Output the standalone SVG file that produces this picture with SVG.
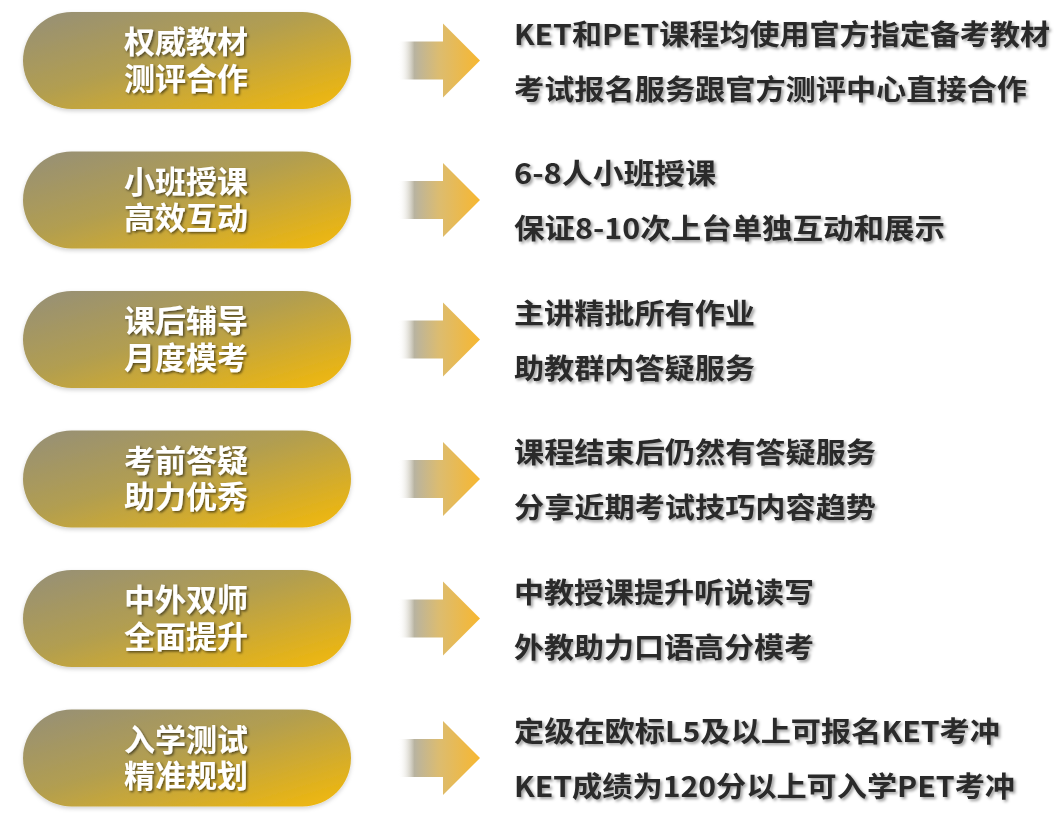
<svg xmlns="http://www.w3.org/2000/svg" width="1061" height="834" viewBox="0 0 1061 834">
<defs>
<linearGradient id="pillGrad" x1="0" y1="0" x2="1" y2="1" gradientUnits="objectBoundingBox">
<stop offset="0" stop-color="#958f78"/>
<stop offset="0.45" stop-color="#b29e50"/>
<stop offset="1" stop-color="#f5ba08"/>
</linearGradient>
<linearGradient id="arrowGrad" x1="398" y1="0" x2="480" y2="0" gradientUnits="userSpaceOnUse">
<stop offset="0" stop-color="#ffffff" stop-opacity="0"/>
<stop offset="0.2" stop-color="#b8b3a0"/>
<stop offset="0.5" stop-color="#dcbc70"/>
<stop offset="1" stop-color="#f7b730"/>
</linearGradient>
<filter id="pillShadow" x="-10%" y="-20%" width="120%" height="150%">
<feDropShadow dx="0" dy="2" stdDeviation="2" flood-color="#000" flood-opacity="0.18"/>
</filter>
<filter id="whiteTextShadow" x="-10%" y="-30%" width="120%" height="160%">
<feDropShadow dx="1.5" dy="1.5" stdDeviation="1.2" flood-color="#000" flood-opacity="0.55"/>
</filter>
<filter id="darkTextShadow" x="-5%" y="-30%" width="110%" height="160%">
<feDropShadow dx="2" dy="2" stdDeviation="1.6" flood-color="#000" flood-opacity="0.38"/>
</filter>
<path id="arrowShape" d="M398,-19 L443,-19 L443,-37 L480,0 L443,37 L443,19 L398,19 Z"/>
</defs>
<style>
.pill { fill: url(#pillGrad); filter: url(#pillShadow); }
.ptext { font-family: "Noto Sans CJK SC", "Noto Sans", sans-serif; font-weight: bold; font-size: 31px; fill: #ffffff; text-anchor: middle; filter: url(#whiteTextShadow); }
.dtext { font-family: "Noto Sans CJK SC", "Noto Sans", sans-serif; font-weight: bold; font-size: 28px; fill: #2b2b2b; filter: url(#darkTextShadow); }
.arrow { fill: url(#arrowGrad); }
</style>
<rect width="1061" height="834" fill="#ffffff"/>

<g id="connectors">
<use href="#arrowShape" class="arrow" transform="translate(0,60.5)"/>
<use href="#arrowShape" class="arrow" transform="translate(0,200)"/>
<use href="#arrowShape" class="arrow" transform="translate(0,339.5)"/>
<use href="#arrowShape" class="arrow" transform="translate(0,479)"/>
<use href="#arrowShape" class="arrow" transform="translate(0,618.5)"/>
<use href="#arrowShape" class="arrow" transform="translate(0,758)"/>
</g>

<g id="node1">
<rect class="pill" x="23" y="12" width="328" height="97" rx="48.5"/>
<text class="ptext" x="186" y="53">权威教材</text>
<text class="ptext" x="186" y="89.5">测评合作</text>
</g>
<g id="desc1">
<text class="dtext" x="514" y="44.5" textLength="536" lengthAdjust="spacingAndGlyphs">KET和PET课程均使用官方指定备考教材</text>
<text class="dtext" x="514" y="99.5" textLength="513" lengthAdjust="spacingAndGlyphs">考试报名服务跟官方测评中心直接合作</text>
</g>

<g id="node2">
<rect class="pill" x="23" y="151.5" width="328" height="97" rx="48.5"/>
<text class="ptext" x="186" y="192.5">小班授课</text>
<text class="ptext" x="186" y="229">高效互动</text>
</g>
<g id="desc2">
<text class="dtext" x="514" y="184" textLength="202" lengthAdjust="spacingAndGlyphs">6-8人小班授课</text>
<text class="dtext" x="514" y="239" textLength="431" lengthAdjust="spacingAndGlyphs">保证8-10次上台单独互动和展示</text>
</g>

<g id="node3">
<rect class="pill" x="23" y="291" width="328" height="97" rx="48.5"/>
<text class="ptext" x="186" y="332">课后辅导</text>
<text class="ptext" x="186" y="368.5">月度模考</text>
</g>
<g id="desc3">
<text class="dtext" x="514" y="323.5" textLength="241" lengthAdjust="spacingAndGlyphs">主讲精批所有作业</text>
<text class="dtext" x="514" y="378.5" textLength="241" lengthAdjust="spacingAndGlyphs">助教群内答疑服务</text>
</g>

<g id="node4">
<rect class="pill" x="23" y="430.5" width="328" height="97" rx="48.5"/>
<text class="ptext" x="186" y="471.5">考前答疑</text>
<text class="ptext" x="186" y="508">助力优秀</text>
</g>
<g id="desc4">
<text class="dtext" x="514" y="463" textLength="362" lengthAdjust="spacingAndGlyphs">课程结束后仍然有答疑服务</text>
<text class="dtext" x="514" y="518" textLength="362" lengthAdjust="spacingAndGlyphs">分享近期考试技巧内容趋势</text>
</g>

<g id="node5">
<rect class="pill" x="23" y="570" width="328" height="97" rx="48.5"/>
<text class="ptext" x="186" y="611">中外双师</text>
<text class="ptext" x="186" y="647.5">全面提升</text>
</g>
<g id="desc5">
<text class="dtext" x="514" y="602.5" textLength="300" lengthAdjust="spacingAndGlyphs">中教授课提升听说读写</text>
<text class="dtext" x="514" y="657.5" textLength="300" lengthAdjust="spacingAndGlyphs">外教助力口语高分模考</text>
</g>

<g id="node6">
<rect class="pill" x="23" y="709.5" width="328" height="97" rx="48.5"/>
<text class="ptext" x="186" y="750.5">入学测试</text>
<text class="ptext" x="186" y="787">精准规划</text>
</g>
<g id="desc6">
<text class="dtext" x="514" y="742" textLength="486" lengthAdjust="spacingAndGlyphs">定级在欧标L5及以上可报名KET考冲</text>
<text class="dtext" x="514" y="797" textLength="501" lengthAdjust="spacingAndGlyphs">KET成绩为120分以上可入学PET考冲</text>
</g>
</svg>
